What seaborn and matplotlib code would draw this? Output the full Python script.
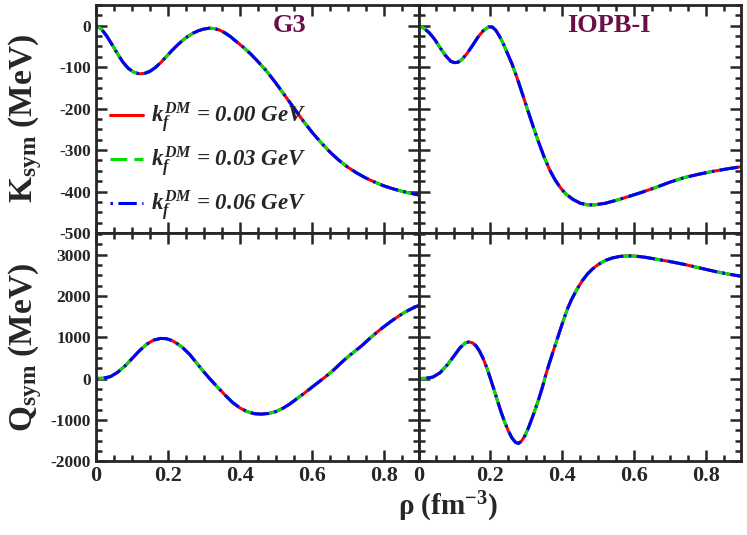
import numpy as np
import pandas as pd
import matplotlib
matplotlib.use('Agg')
import matplotlib.pyplot as plt
from matplotlib.ticker import MultipleLocator
import seaborn as sns

# values: density rho (fm^-3) and K_sym / Q_sym (MeV)
rho_g3_k = [0.000, 0.015, 0.030, 0.045, 0.060, 0.075, 0.090, 0.105, 0.120, 0.135, 0.150, 0.165,
            0.180, 0.195, 0.210, 0.225, 0.240, 0.255, 0.270, 0.285, 0.300, 0.315, 0.330, 0.345,
            0.360, 0.375, 0.390, 0.410, 0.430, 0.450, 0.475, 0.500, 0.525, 0.550, 0.575, 0.600,
            0.625, 0.650, 0.675, 0.700, 0.725, 0.750, 0.775, 0.800, 0.825, 0.850, 0.875, 0.897]
g3_k = [0, -8, -25, -46, -68, -88, -103, -112, -116, -115, -110, -101,
        -89, -75, -61, -48, -36, -26, -18, -12, -8, -6, -7, -11,
        -18, -27, -38, -52, -68, -86, -110, -138, -168, -198, -228, -256,
        -281, -304, -324, -341, -355, -367, -377, -386, -393, -399, -404, -408]

rho_iopb_k = [0.000, 0.015, 0.030, 0.045, 0.060, 0.075, 0.090, 0.100, 0.110, 0.120, 0.135, 0.150,
              0.165, 0.180, 0.195, 0.205, 0.215, 0.225, 0.235, 0.245, 0.260, 0.275, 0.290, 0.305,
              0.320, 0.335, 0.350, 0.365, 0.380, 0.395, 0.410, 0.430, 0.450, 0.470, 0.490, 0.520,
              0.550, 0.580, 0.620, 0.660, 0.700, 0.740, 0.780, 0.820, 0.860, 0.897]
iopb_k = [0, -6, -17, -33, -53, -72, -86, -89, -88, -82, -67, -48,
          -28, -12, -3, -3, -11, -25, -42, -62, -92, -128, -167, -207,
          -246, -283, -318, -348, -372, -391, -406, -419, -428, -432, -432, -428,
          -421, -413, -402, -390, -377, -366, -358, -351, -345, -340]

rho_g3_q = [0.000, 0.020, 0.040, 0.060, 0.080, 0.100, 0.120, 0.140, 0.160, 0.180, 0.195, 0.210,
            0.225, 0.240, 0.260, 0.280, 0.300, 0.320, 0.340, 0.360, 0.380, 0.400, 0.420, 0.440,
            0.460, 0.480, 0.500, 0.520, 0.540, 0.560, 0.580, 0.600, 0.620, 0.640, 0.660, 0.680,
            0.700, 0.720, 0.740, 0.760, 0.780, 0.800, 0.820, 0.840, 0.860, 0.880, 0.897]
g3_q = [0, 8, 45, 150, 300, 480, 665, 825, 930, 970, 965, 925,
        850, 755, 590, 375, 160, -40, -225, -410, -580, -710, -800, -850,
        -862, -845, -800, -720, -610, -480, -350, -215, -80, 55, 200, 365,
        520, 660, 800, 960, 1110, 1250, 1380, 1500, 1610, 1700, 1765]

rho_iopb_q = [0.000, 0.020, 0.040, 0.060, 0.080, 0.100, 0.115, 0.130, 0.140, 0.150, 0.160, 0.170,
              0.180, 0.190, 0.200, 0.210, 0.220, 0.230, 0.240, 0.250, 0.260, 0.270, 0.278, 0.286,
              0.295, 0.305, 0.315, 0.325, 0.335, 0.345, 0.355, 0.365, 0.375, 0.385, 0.395, 0.405,
              0.415, 0.425, 0.440, 0.455, 0.470, 0.485, 0.500, 0.520, 0.540, 0.560, 0.580, 0.600,
              0.630, 0.660, 0.700, 0.740, 0.780, 0.820, 0.860, 0.897]
iopb_q = [0, 5, 35, 140, 330, 560, 740, 860, 885, 865, 790, 660,
          480, 260, 0, -270, -550, -820, -1060, -1270, -1440, -1545, -1570, -1520,
          -1400, -1210, -980, -740, -480, -200, 120, 400, 670, 935, 1200, 1460,
          1700, 1900, 2150, 2360, 2530, 2660, 2760, 2860, 2920, 2955, 2968, 2965,
          2935, 2890, 2830, 2760, 2680, 2600, 2530, 2475]

kf_dm = ['0.00', '0.03', '0.06']
colors = ['#ff0000', '#00e000', '#0000ff']
dash_styles = ['', (5.5, 2.3), (0.8, 1.8, 6.0, 1.8)]

sns.set_style('ticks')
plt.rcParams['font.family'] = ['Liberation Serif', 'DejaVu Serif']
plt.rcParams['font.weight'] = 'bold'
plt.rcParams['axes.unicode_minus'] = False
plt.rcParams['mathtext.fontset'] = 'custom'
plt.rcParams['mathtext.rm'] = 'Liberation Serif:bold'
plt.rcParams['mathtext.bf'] = 'Liberation Serif:bold'
plt.rcParams['mathtext.it'] = 'Liberation Serif:italic:bold'

fig, axes = plt.subplots(2, 2, figsize=(7.47, 5.35), dpi=100)
fig.subplots_adjust(left=0.1285, right=0.992, top=0.9907, bottom=0.138, hspace=0, wspace=0)

panels = [
    (axes[0, 0], rho_g3_k, g3_k),
    (axes[0, 1], rho_iopb_k, iopb_k),
    (axes[1, 0], rho_g3_q, g3_q),
    (axes[1, 1], rho_iopb_q, iopb_q),
]

labels = [r'$k_f^{DM}$ = %s GeV' % k for k in kf_dm]

for ax, x, y in panels:
    rows = []
    for lab in labels:
        for xi, yi in zip(x, y):
            rows.append({'rho': xi, 'val': yi, 'label': lab})
    df = pd.DataFrame(rows)
    sns.lineplot(data=df, x='rho', y='val', hue='label', style='label',
                 palette=dict(zip(labels, colors)), dashes=dict(zip(labels, dash_styles)),
                 linewidth=2.2, ax=ax, legend=(ax is axes[0, 0]))
    ax.set_xlim(0, 0.897)
    ax.xaxis.set_major_locator(MultipleLocator(0.2))
    ax.xaxis.set_minor_locator(MultipleLocator(0.05))
    ax.set_xlabel('')
    ax.set_ylabel('')
    ax.tick_params(which='both', direction='in', top=True, right=True, width=1.8)
    ax.tick_params(which='major', length=8)
    ax.tick_params(which='minor', length=4.5)
    for s in ax.spines.values():
        s.set_linewidth(2.0)

for ax in axes[0]:
    ax.set_ylim(-500, 50)
    ax.yaxis.set_major_locator(MultipleLocator(100))
    ax.yaxis.set_minor_locator(MultipleLocator(25))
    ax.tick_params(labelbottom=False)
for ax in axes[1]:
    ax.set_ylim(-2000, 3520)
    ax.yaxis.set_major_locator(MultipleLocator(1000))
    ax.yaxis.set_minor_locator(MultipleLocator(250))
    ax.set_xticks([0, 0.2, 0.4, 0.6, 0.8])
    ax.set_xticklabels(['0', '0.2', '0.4', '0.6', '0.8'])
for ax in axes[:, 1]:
    ax.tick_params(labelleft=False)

for ax in axes.flat:
    for lab in ax.get_xticklabels():
        lab.set_fontsize(16)
        lab.set_fontweight('bold')
    for lab in ax.get_yticklabels():
        lab.set_fontsize(12.5)
        lab.set_fontweight('bold')

axes[0, 0].set_ylabel(r'$\mathbf{K_{sym}}$ (MeV)', fontsize=24, fontweight='bold')
axes[1, 0].set_ylabel(r'$\mathbf{Q_{sym}}$ (MeV)', fontsize=24, fontweight='bold')
axes[0, 0].yaxis.set_label_coords(-0.16, 0.5)
axes[1, 0].yaxis.set_label_coords(-0.16, 0.5)
fig.text(0.599, 0.052, 'ρ (fm$^{-3}$)', ha='center', va='center',
         fontsize=21, fontweight='bold')

title_color = '#6b0f47'
axes[0, 0].text(0.60, 0.91, 'G3', transform=axes[0, 0].transAxes, ha='center', va='center',
                fontsize=19, fontweight='bold', color=title_color)
axes[0, 1].text(0.59, 0.91, 'IOPB-I', transform=axes[0, 1].transAxes, ha='center', va='center',
                fontsize=19, fontweight='bold', color=title_color)

leg = axes[0, 0].legend(loc='lower left', bbox_to_anchor=(-0.02, -0.045), frameon=False,
                        handlelength=1.45, handletextpad=0.35, labelspacing=0.42,
                        prop={'size': 16.5, 'weight': 'bold', 'style': 'italic'})

plt.savefig('out.png', dpi=100)
